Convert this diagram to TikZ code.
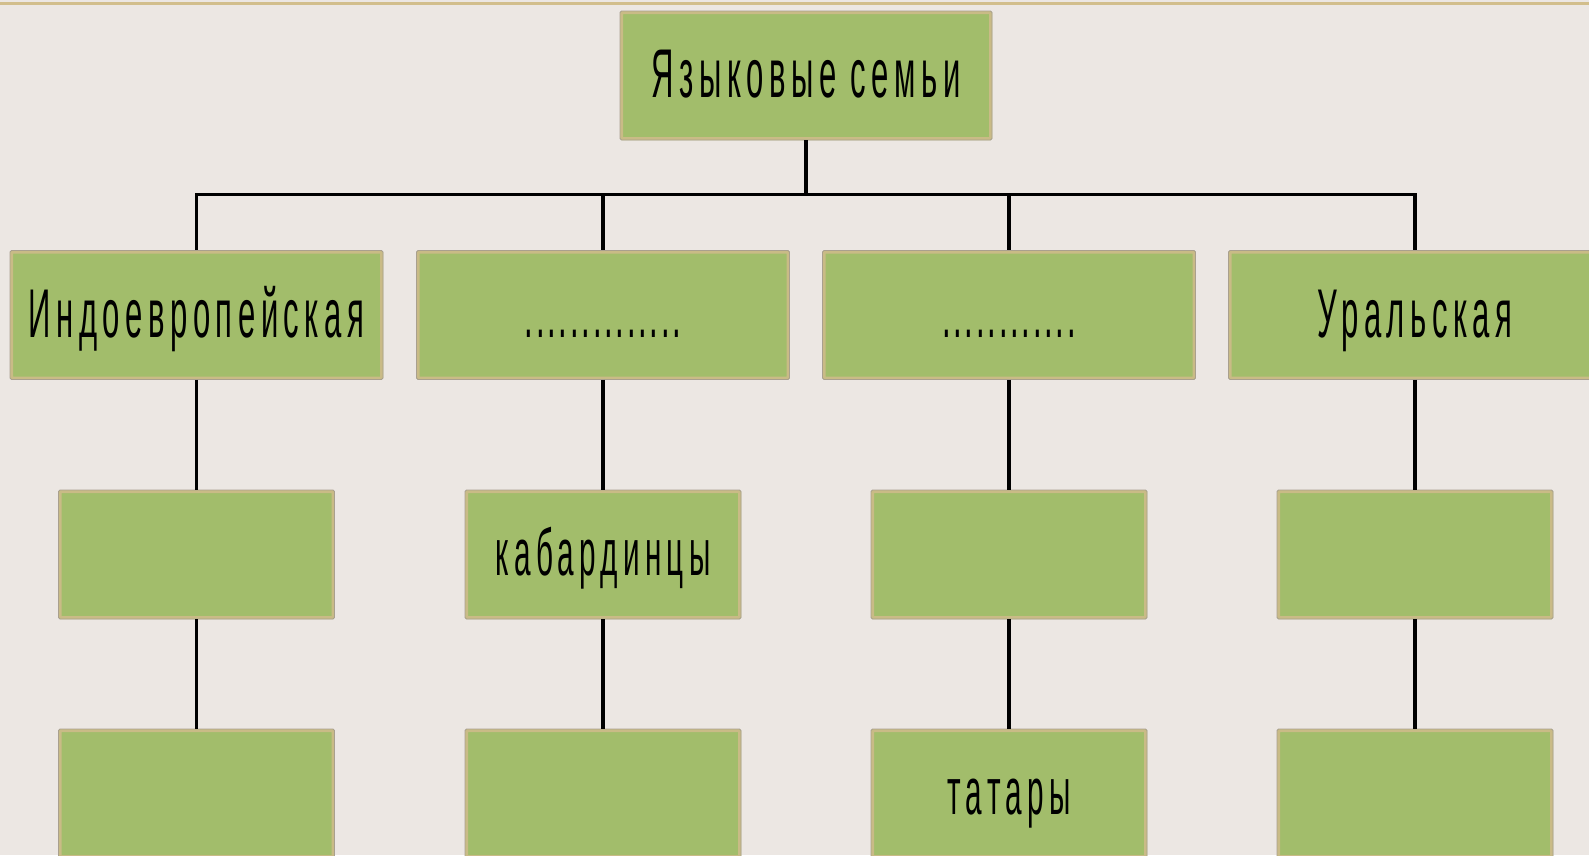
\documentclass[tikz,border=0pt]{standalone}
\usepackage{fontspec}
\setmainfont[FakeStretch=0.45,LetterSpace=8]{Liberation Sans}
\definecolor{bgpaper}{HTML}{ECE7E3}
\definecolor{boxgreen}{HTML}{A2BD6B}
\definecolor{boxtan}{HTML}{C9BB86}
\definecolor{boxedge}{HTML}{A9A08E}
\definecolor{topline}{HTML}{D2BE8C}
\newcommand{\dotrow}[1]{{\addfontfeature{LetterSpace=4}#1}}
\tikzset{
    famblock/.style={draw=boxedge,line width=0.8pt,fill=boxgreen,rounded corners=1.5pt,
        minimum width=373pt,minimum height=129pt,inner sep=0pt,
        text height=44pt,text depth=0pt,
        path picture={\draw[boxtan,line width=6pt]
            (path picture bounding box.south west) rectangle (path picture bounding box.north east);},
        font=\fontsize{69}{80}\selectfont},
    peopleblock/.style={famblock,minimum width=276pt,text height=42pt,font=\fontsize{66}{76}\selectfont},
    treeline/.style={draw=black,line width=3.5pt}
}
\begin{document}
\begin{tikzpicture}[x=1pt,y=-1pt]
            \clip (0,0) rectangle (1589,855);
            \fill[bgpaper] (0,0) rectangle (1589,855);
            \draw[topline,line width=3pt] (0,3) -- (1589,3);
            \node[famblock,minimum width=372pt] (root) at (806,75.5) {Языковые семьи};
            \node[famblock] (f1) at (196.5,315) {Индоевропейская};
            \node[famblock] (f2) at (603,315) {\dotrow{..............}};
            \node[famblock] (f3) at (1009,315) {\dotrow{............}};
            \node[famblock] (f4) at (1415,315) {Уральская};
            \node[peopleblock] (p1) at (196.5,554.5) {};
            \node[peopleblock] (p2) at (603,554.5) {кабардинцы};
            \node[peopleblock] (p3) at (1009,554.5) {};
            \node[peopleblock] (p4) at (1415,554.5) {};
            \node[peopleblock] (q1) at (196.5,793.5) {};
            \node[peopleblock] (q2) at (603,793.5) {};
            \node[peopleblock] (q3) at (1009,793.5) {татары};
            \node[peopleblock] (q4) at (1415,793.5) {};
            \coordinate (bus) at (806,194.5);
            \draw[treeline] (root.south) -- (bus);
            \draw[treeline,line cap=rect] (bus -| f1) -- (bus -| f4);
            \foreach \i in {1,...,4}{
                \draw[treeline] (bus -| f\i) -- (f\i.north);
                \draw[treeline] (f\i.south) -- (p\i.north);
                \draw[treeline] (p\i.south) -- (q\i.north);
            }
\end{tikzpicture}
\end{document}
